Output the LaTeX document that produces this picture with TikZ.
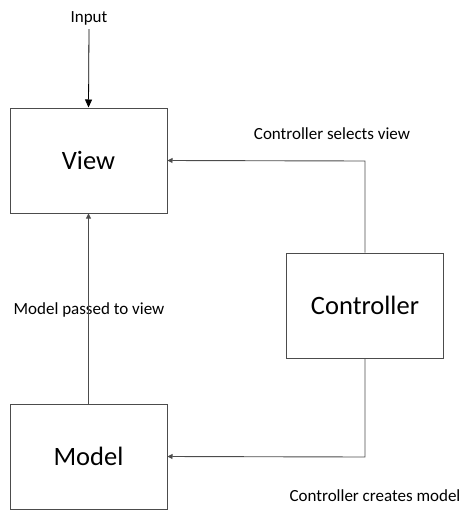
\documentclass[tikz,border=0pt]{standalone}
\usepackage{fontspec}
\setmainfont{Carlito}
\usetikzlibrary{arrows.meta}
\begin{document}
\begin{tikzpicture}[x=1pt,y=-1pt,
  box/.style={draw=black!70,line width=1pt,minimum width=157pt,minimum height=105pt,inner sep=0pt,font=\fontsize{26.5}{30}\selectfont},
  lab/.style={font=\fontsize{17}{20}\selectfont,inner sep=0pt},
  conn/.style={draw=black!70,line width=0.9pt,-{Triangle[length=5pt,width=5pt]}},
  bigconn/.style={draw=black,line width=0.8pt,-{Triangle[length=8pt,width=7pt]}}]
\useasboundingbox (0,0) rectangle (474,517);
\node[box] (view) at (88.5,160.5) {View};
\node[box] (model) at (88.5,456.5) {Model};
\node[box] (ctrl) at (365,305.5) {Controller};
\node[lab] (input) at (89,18) {Input};
\node[lab] (sel) at (332,134) {Controller selects view};
\node[lab] (pass) at (89,310) {Model passed to view};
\node[lab] (cre) at (375,496) {Controller creates model};
\coordinate (c1) at (365,161);
\coordinate (c2) at (365,457);
\draw[bigconn] ([yshift=-4pt]input.south) -- (view.north);
\draw[conn] (ctrl.north) -- (c1) -- (view.east);
\draw[conn] (ctrl.south) -- (c2) -- (model.east);
\draw[conn] (model.north) -- (view.south);
\end{tikzpicture}
\end{document}
